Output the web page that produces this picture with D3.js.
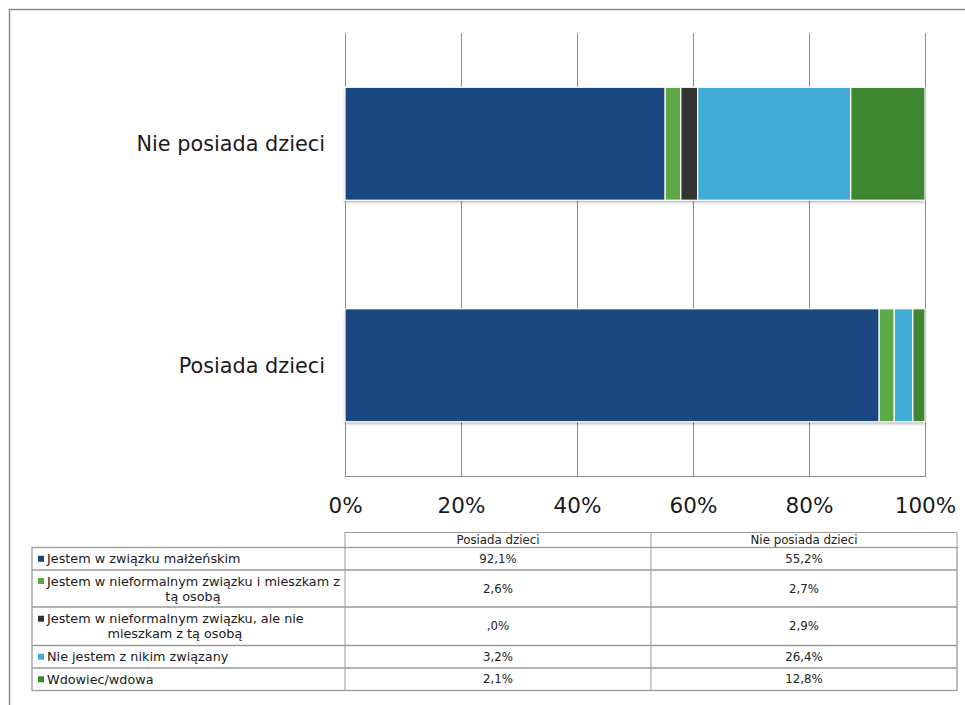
<!DOCTYPE html>
<html><head><meta charset="utf-8">
<script src="https://cdn.jsdelivr.net/npm/d3@7"></script>
<style>body{margin:0;background:#fff;}svg{display:block;}</style>
</head><body><div id="chart"></div>
<script>
const categories = ["Posiada dzieci", "Nie posiada dzieci"];
const seriesNames = [
  "Jestem w związku małżeńskim",
  "Jestem w nieformalnym związku i mieszkam z tą osobą",
  "Jestem w nieformalnym związku, ale nie mieszkam z tą osobą",
  "Nie jestem z nikim związany",
  "Wdowiec/wdowa"
];
const legendLines = [
  ["Jestem w związku małżeńskim"],
  ["Jestem w nieformalnym związku i mieszkam z", "tą osobą"],
  ["Jestem w nieformalnym związku, ale nie", "mieszkam z tą osobą"],
  ["Nie jestem z nikim związany"],
  ["Wdowiec/wdowa"]
];
const posiada = [92.1, 2.6, 0.0, 3.2, 2.1];
const niePosiada = [55.2, 2.7, 2.9, 26.4, 12.8];
const tableLabels = {
  posiada: ["92,1%", "2,6%", ",0%", "3,2%", "2,1%"],
  niePosiada: ["55,2%", "2,7%", "2,9%", "26,4%", "12,8%"]
};
const tickValues = [0, 20, 40, 60, 80, 100];
const colors = ["#1a4780", "#5ca946", "#333333", "#41acd6", "#3e8730"];

const W = 965, H = 705;
const svg = d3.select("#chart").append("svg").attr("width", W).attr("height", H);
const font = "DejaVu Sans, Verdana, sans-serif";

const defs = svg.append("defs");
const f = defs.append("filter").attr("id", "sh").attr("x", "-5%").attr("y", "-10%").attr("width", "110%").attr("height", "130%");
f.append("feDropShadow").attr("dx", 0).attr("dy", 2).attr("stdDeviation", 1.5).attr("flood-color", "#000").attr("flood-opacity", 0.3);

// outer frame
svg.append("path").attr("d", `M9.5,${H+5} L9.5,9.5 L${W+5},9.5`).attr("fill", "none").attr("stroke", "#8c8c8c").attr("stroke-width", 1.5);

const x = d3.scaleLinear().domain([0, 100]).range([345, 925]);
const y = d3.scaleBand().domain(["Nie posiada dzieci", "Posiada dzieci"]).range([33, 476]).paddingInner(0.49).paddingOuter(0.245);

// gridlines
svg.append("g").selectAll("line").data(tickValues).join("line")
  .attr("x1", d => Math.round(x(d)) + 0.5).attr("x2", d => Math.round(x(d)) + 0.5)
  .attr("y1", 33).attr("y2", 476).attr("stroke", "#8a8a8a").attr("stroke-width", 1);
svg.append("line").attr("x1", 345).attr("x2", 926).attr("y1", 476.5).attr("y2", 476.5).attr("stroke", "#8a8a8a");

// x axis labels
const xAxis = d3.axisBottom(x).tickValues(tickValues).tickFormat(d => d + "%").tickSize(0).tickPadding(0);
const gx = svg.append("g").attr("transform", "translate(0,496)").call(xAxis);
gx.select(".domain").remove();
gx.selectAll("text").attr("font-family", font).attr("font-size", 21.5).attr("fill", "#1a1a1a").attr("dy", "0.78em");

// stacked data
const rows = categories.map((c, i) => {
  const vals = i === 0 ? posiada : niePosiada;
  const o = { cat: c };
  seriesNames.forEach((s, j) => o[s] = vals[j]);
  return o;
});
const stack = d3.stack().keys(seriesNames)(rows);

const barG = svg.append("g");
categories.forEach((c, ci) => {
  barG.append("rect").attr("x", x(0)).attr("y", y(c)).attr("width", x(100) - x(0)).attr("height", y.bandwidth())
    .attr("fill", "#fff").attr("filter", "url(#sh)");
});
stack.forEach((layer, si) => {
  barG.append("g").selectAll("rect").data(layer).join("rect")
    .attr("x", d => x(d[0])).attr("y", d => y(d.data.cat))
    .attr("width", d => Math.max(0, x(d[1]) - x(d[0])))
    .attr("height", y.bandwidth())
    .attr("fill", colors[si]).attr("stroke", "#fff").attr("stroke-width", d => (d[1] - d[0]) > 0 ? 1.2 : 0);
});

// category labels
svg.append("g").selectAll("text").data(categories).join("text")
  .attr("x", 325).attr("y", d => y(d) + y.bandwidth() / 2).attr("dy", "0.36em")
  .attr("text-anchor", "end").attr("font-family", font).attr("font-size", 20.8).attr("fill", "#1a1a1a")
  .text(d => d);

// data table
const tLeft = 32, c1 = 345, c2 = 651, tRight = 957;
const rowY = [547.5, 570, 607, 645.5, 668, 690.5];
const headTop = 532.5;
const tg = svg.append("g");
const lc = "#9a9a9a";
tg.append("rect").attr("x", c1).attr("y", headTop).attr("width", tRight - c1).attr("height", rowY[0] - headTop).attr("fill", "none").attr("stroke", lc);
tg.append("line").attr("x1", c2).attr("x2", c2).attr("y1", headTop).attr("y2", rowY[5]).attr("stroke", lc);
tg.append("rect").attr("x", tLeft).attr("y", rowY[0]).attr("width", tRight - tLeft).attr("height", rowY[5] - rowY[0]).attr("fill", "none").attr("stroke", lc).attr("stroke-width", 1.3);
tg.append("line").attr("x1", c1).attr("x2", c1).attr("y1", rowY[0]).attr("y2", rowY[5]).attr("stroke", lc);
tg.selectAll("line.h").data(rowY.slice(1, 5)).join("line").attr("class", "h")
  .attr("x1", tLeft).attr("x2", tRight).attr("y1", d => d).attr("y2", d => d).attr("stroke", lc).attr("stroke-width", 1.3);

const tFont = "DejaVu Sans, Tahoma, sans-serif";
const tSize = 11.8;
tg.append("text").attr("x", (c1 + c2) / 2).attr("y", (headTop + rowY[0]) / 2).attr("dy", "0.36em").attr("text-anchor", "middle")
  .attr("font-family", tFont).attr("font-size", tSize).attr("fill", "#222").text(categories[0]);
tg.append("text").attr("x", (c2 + tRight) / 2).attr("y", (headTop + rowY[0]) / 2).attr("dy", "0.36em").attr("text-anchor", "middle")
  .attr("font-family", tFont).attr("font-size", tSize).attr("fill", "#222").text(categories[1]);

seriesNames.forEach((s, i) => {
  const top = rowY[i], bot = rowY[i + 1], mid = (top + bot) / 2;
  tg.append("text").attr("x", (c1 + c2) / 2).attr("y", mid).attr("dy", "0.36em").attr("text-anchor", "middle")
    .attr("font-family", tFont).attr("font-size", tSize).attr("fill", "#222").text(tableLabels.posiada[i]);
  tg.append("text").attr("x", (c2 + tRight) / 2).attr("y", mid).attr("dy", "0.36em").attr("text-anchor", "middle")
    .attr("font-family", tFont).attr("font-size", tSize).attr("fill", "#222").text(tableLabels.niePosiada[i]);
  const lines = legendLines[i];
  const lh = 15;
  const y0 = mid - (lines.length - 1) * lh / 2;
  tg.append("rect").attr("x", 38).attr("y", y0 - 3).attr("width", 6).attr("height", 6).attr("fill", colors[i]);
  const t1 = tg.append("text").attr("x", 47).attr("y", y0).attr("dy", "0.36em")
    .attr("font-family", font).attr("font-size", 12.8).attr("fill", "#1a1a1a").text(lines[0]);
  if (lines.length > 1) {
    const w1 = t1.node().getComputedTextLength();
    const cx = (38 + 47 + w1) / 2 + 4;
    tg.append("text").attr("x", cx).attr("y", y0 + lh).attr("dy", "0.36em").attr("text-anchor", "middle")
      .attr("font-family", font).attr("font-size", 12.8).attr("fill", "#1a1a1a").text(lines[1]);
  }
});
</script></body></html>
